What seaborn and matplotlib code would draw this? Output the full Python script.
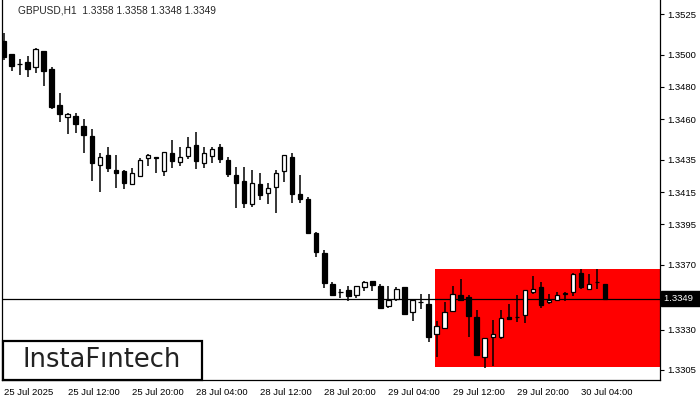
import numpy as np
import pandas as pd
import matplotlib
matplotlib.use("Agg")
import matplotlib.pyplot as plt
import matplotlib.transforms as mtransforms
from matplotlib.patches import Rectangle
import seaborn as sns

# GBPUSD H1 candles (25 Jul 04:00 .. 30 Jul 07:00)
opens = [1.35085, 1.35003, 1.34941, 1.34953, 1.34921, 1.35021, 1.34910, 1.34688, 1.34615, 1.34620,
         1.34558, 1.34496, 1.34315, 1.34379, 1.34286, 1.34280, 1.34198, 1.34251, 1.34358, 1.34364,
         1.34282, 1.34389, 1.34334, 1.34374, 1.34440, 1.34331, 1.34374, 1.34430, 1.34348, 1.34255,
         1.34218, 1.34074, 1.34199, 1.34142, 1.34183, 1.34280, 1.34366, 1.34138, 1.34107, 1.33897,
         1.33773, 1.33581, 1.33530, 1.33542, 1.33515, 1.33565, 1.33600, 1.33569, 1.33447, 1.33487,
         1.33563, 1.33406, 1.33468, 1.33458, 1.33271, 1.33308, 1.33416, 1.33512, 1.33499, 1.33376,
         1.33132, 1.33256, 1.33256, 1.33376, 1.33376, 1.33388, 1.33530, 1.33561, 1.33468, 1.33481,
         1.33520, 1.33530, 1.33648, 1.33549, 1.33592, 1.33580]
highs = [1.35131, 1.35003, 1.34970, 1.34990, 1.35038, 1.35021, 1.34921, 1.34764, 1.34640, 1.34640,
         1.34601, 1.34539, 1.34389, 1.34430, 1.34379, 1.34286, 1.34296, 1.34358, 1.34385, 1.34364,
         1.34395, 1.34471, 1.34430, 1.34492, 1.34519, 1.34430, 1.34430, 1.34447, 1.34364, 1.34306,
         1.34306, 1.34286, 1.34266, 1.34204, 1.34286, 1.34379, 1.34393, 1.34255, 1.34121, 1.33901,
         1.33792, 1.33596, 1.33549, 1.33569, 1.33571, 1.33600, 1.33600, 1.33581, 1.33569, 1.33561,
         1.33563, 1.33489, 1.33520, 1.33520, 1.33353, 1.33468, 1.33569, 1.33612, 1.33513, 1.33421,
         1.33246, 1.33359, 1.33421, 1.33458, 1.33513, 1.33542, 1.33631, 1.33592, 1.33518, 1.33532,
         1.33532, 1.33648, 1.33674, 1.33643, 1.33674, 1.33580]
lows = [1.34966, 1.34900, 1.34873, 1.34859, 1.34887, 1.34807, 1.34663, 1.34584, 1.34507, 1.34516,
        1.34389, 1.34220, 1.34152, 1.34275, 1.34173, 1.34167, 1.34198, 1.34245, 1.34313, 1.34266,
        1.34251, 1.34296, 1.34313, 1.34354, 1.34292, 1.34296, 1.34327, 1.34327, 1.34245, 1.34053,
        1.34053, 1.34059, 1.34101, 1.34074, 1.34022, 1.34214, 1.34084, 1.34084, 1.33898, 1.33750,
        1.33559, 1.33509, 1.33497, 1.33478, 1.33497, 1.33540, 1.33539, 1.33435, 1.33435, 1.33478,
        1.33398, 1.33353, 1.33427, 1.33225, 1.33132, 1.33308, 1.33416, 1.33483, 1.33256, 1.33144,
        1.33064, 1.33075, 1.33243, 1.33367, 1.33348, 1.33339, 1.33518, 1.33435, 1.33458, 1.33481,
        1.33476, 1.33509, 1.33549, 1.33542, 1.33549, 1.33480]
closes = [1.34986, 1.34931, 1.34941, 1.34908, 1.35032, 1.34900, 1.34673, 1.34630, 1.34630, 1.34568,
          1.34502, 1.34327, 1.34364, 1.34296, 1.34266, 1.34204, 1.34266, 1.34348, 1.34379, 1.34358,
          1.34395, 1.34343, 1.34364, 1.34430, 1.34343, 1.34389, 1.34416, 1.34354, 1.34264, 1.34204,
          1.34084, 1.34204, 1.34133, 1.34173, 1.34266, 1.34379, 1.34139, 1.34109, 1.33898, 1.33781,
          1.33589, 1.33515, 1.33530, 1.33509, 1.33567, 1.33592, 1.33577, 1.33435, 1.33483, 1.33549,
          1.33398, 1.33483, 1.33468, 1.33256, 1.33320, 1.33406, 1.33518, 1.33483, 1.33385, 1.33144,
          1.33246, 1.33271, 1.33369, 1.33367, 1.33376, 1.33542, 1.33549, 1.33452, 1.33484, 1.33512,
          1.33520, 1.33641, 1.33561, 1.33581, 1.33592, 1.33490]

time_labels = ["25 Jul 2025", "25 Jul 12:00", "25 Jul 20:00", "28 Jul 04:00", "28 Jul 12:00",
               "28 Jul 20:00", "29 Jul 04:00", "29 Jul 12:00", "29 Jul 20:00", "30 Jul 04:00"]
label_bars = [0, 8, 16, 24, 32, 40, 48, 56, 64, 72]
price_ticks = [1.3525, 1.3500, 1.3480, 1.3460, 1.3435, 1.3415, 1.3395, 1.3370, 1.3330, 1.3305]

zone_start_bar = 54
zone_top = 1.33674
zone_bottom = 1.33070
last_price = 1.3349
header = "GBPUSD,H1  1.3358 1.3358 1.3348 1.3349"

df = pd.DataFrame({"open": opens, "high": highs, "low": lows, "close": closes})
df["bar"] = np.arange(len(df))
df["bull"] = df["close"] >= df["open"]
df["body_lo"] = df[["open", "close"]].min(axis=1)
df["body_h"] = (df["close"] - df["open"]).abs().clip(lower=0.00003)

sns.set_style("white")
plt.rcParams["font.family"] = ["Liberation Sans", "DejaVu Sans"]
small = 6.8

fig = plt.figure(figsize=(7, 4), dpi=100)
ax = fig.add_axes([2 / 700, 20.5 / 400, 658 / 700, 379.5 / 400])

bar_px = 8.02
xmin = -1.5 / bar_px
xmax = xmin + 658 / bar_px
ax.set_xlim(xmin, xmax)
ax.set_ylim(1.32991, 1.35337)

# red zone
ax.add_patch(Rectangle((zone_start_bar - 0.25, zone_bottom), xmax - zone_start_bar + 0.25,
                       zone_top - zone_bottom, facecolor="#ff0000", edgecolor="none", zorder=1))

ax.axhline(last_price, color="black", lw=0.9, zorder=2)

# candles
ax.vlines(df["bar"], df["low"], df["high"], color="black", lw=1.1, zorder=3)
ax.bar(df["bar"], df["body_h"], bottom=df["body_lo"], width=0.55,
       color=np.where(df["bull"], "white", "black"), edgecolor="black", lw=0.9, zorder=4)

ax.yaxis.tick_right()
ax.set_yticks(price_ticks)
ax.set_yticklabels([f"{p:.4f}" for p in price_ticks])
ax.set_xticks(label_bars)
ax.set_xticklabels(time_labels, ha="left")
ax.tick_params(axis="both", direction="out", length=3, width=0.8, labelsize=small,
               colors="black", pad=2)
ax.tick_params(axis="x", pad=3)
for side in ["left", "bottom", "right"]:
    ax.spines[side].set_visible(True)
    ax.spines[side].set_color("black")
    ax.spines[side].set_linewidth(0.9)
ax.spines["top"].set_visible(False)

# last price label on the axis
trans = mtransforms.blended_transform_factory(ax.transAxes, ax.transData)
ax.text(1.006, last_price, f"{last_price:.4f}   ", transform=trans, ha="left", va="center",
        fontsize=small, color="white", clip_on=False,
        bbox=dict(boxstyle="square,pad=0.3", facecolor="black", edgecolor="black"))

fig.text(18 / 700, 1 - 10.5 / 400, header, fontsize=7.3, va="center", ha="left")

# logo box
fig.add_artist(Rectangle((3 / 700, 20.5 / 400), 199 / 700, 38.5 / 400, transform=fig.transFigure,
                         facecolor="white", edgecolor="black", lw=1.6, zorder=10))
fig.text(102 / 700, 1 - 360 / 400, "InstaF\u0131ntech", fontsize=18.5, family="DejaVu Sans",
         ha="center", va="center", color="#222222", zorder=11)

fig.savefig("out.png", dpi=100)
